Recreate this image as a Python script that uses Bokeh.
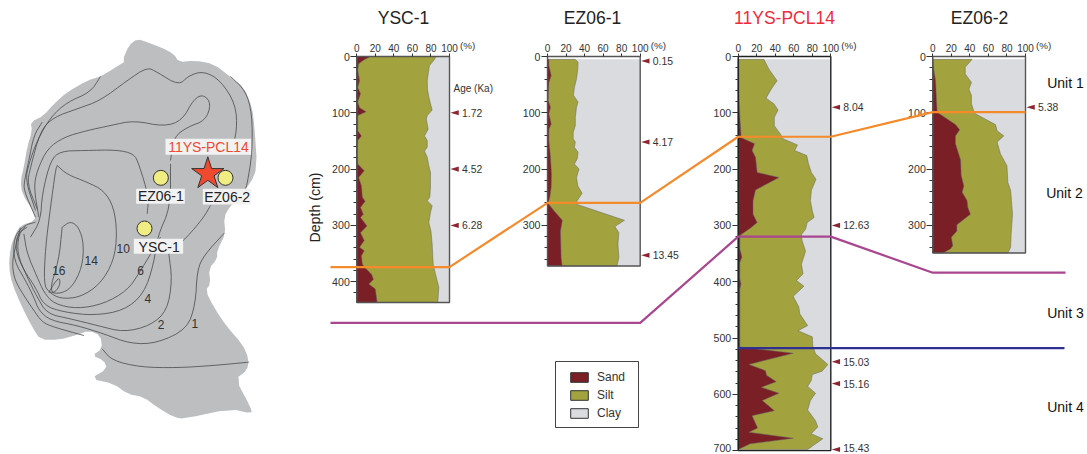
import math
from bokeh.plotting import figure
from bokeh.models import Range1d, LinearAxis, FixedTicker, Legend, LegendItem
from bokeh.core.properties import value
from bokeh.embed import file_html
from bokeh.resources import INLINE

# ---------- data ----------
core_names = ["YSC-1", "EZ06-1", "11YS-PCL14", "EZ06-2"]

ysc_silt_depth = [0,7,16,28,43,58,72,84,95,105,111,129,141,149,161,168,179,194,206,232,250,256,265,277,295,310,333,369,387,410,437]
ysc_silt_pct = [85.6,83,78.4,77.3,76,76.3,77.7,79.5,81.3,76,75,77,73,76,76,73,76,77.7,79.5,79.5,78.8,76,81.3,79.5,77.7,80,81.3,82.4,85,88.5,87.4]
ysc_sand_depth = [0,6,13,25,43,55,66,81,91,98,105,132,141,149,173,191,203,215,230,250,257,268,280,286,301,313,327,339,345,354,369,375,387,396,404,413,437]
ysc_sand_pct = [14.7,7.5,2,1,3,1,4,1,3,10,1,1,5,1,0.5,1,8,2,5,6,9,4,7,4,11,4,8,3,8,5,6,9,16,18,13,20,22]

ez1_silt_depth = [5,10,22,40,55,69,81,90,108,123,135,146,152,161,170,182,191,200,215,230,243,256,262,291,302,313,333,357,372]
ez1_silt_pct = [30,33,32.7,31.3,29,28,33,31.3,30,30,27.7,27.7,30,29,33,32,29,34,31.3,32.7,37.4,32,30.6,83,72.7,77,76,77,75]
ez1_sand_depth = [5,16,34,46,78,90,102,120,129,149,179,209,232,250,261,274,291,310,357,372]
ez1_sand_pct = [1.5,1.5,4,1.5,0.7,3.2,1.5,4,1.5,1.5,3.2,4.3,4,2.5,0.7,7,16,14,14.7,15.8]

pcl_silt_depth = [5,22,43,58,74,84,95,108,123,138,144,146.5,157,167,176,191,206,218,238,256,274,286,295,307,316,327,346,369,386,398,408,426,445,457,478,487,498,514,528,547,559,565,576,586,598,611,628,647,658,670,679,698]
pcl_silt_pct = [27.7,33,42,35.6,30,38.5,43,39,39,45.7,47.5,49,64,61,74,76,79,84,79,78,80,82,74.5,72.7,68.3,69,72.7,68.3,70,63,71,59.4,65.5,66.5,75,64.7,80,80.6,83.5,96.8,90.6,80,78.8,75,83.5,78,75,83.5,86,78.8,91.4,75]
pcl_sand_depth = [5,78,108,138,144,155,167,179,206,215,237,256,280,295,305,317,321,342,356,366,395,404,413,516,527,547,558,566,577.5,587.6,598,611,629,638,660,667.5,678,688,698]
pcl_sand_pct = [0.7,1,1.8,3,3,17.6,15,18.7,20.5,44,18.7,16,16,20.5,13,2.5,1.8,1.8,4,1.8,1.8,3,1.8,1.8,59.4,11.5,29.5,30.6,41,25,44,26,39,15,21,11.5,59.4,13,0]

ez2_silt_depth = [5,19,31,46,58,69,84,101,121,132,141,152,173,194,224,238,280,316,339,349]
ez2_silt_pct = [42.4,35,35,41.7,39,41.7,41.7,45,67.6,69.4,76.6,69.4,73,80,81,84,86,84.5,84,81]
ez2_sand_depth = [5,22,43,78,99,105,121,130,141,155,184,211,230,241,256,268,280,299,310,321,336,342,349]
ez2_sand_pct = [0,1,3,4,4.7,10,24.5,29,24.5,24.5,30,30.6,33.5,31.7,37,37.8,40.6,26,26,20,21.6,19,11]

age_depths = [[100, 200, 300], [8, 152, 353], [90, 300, 542, 581, 698], [90]]
age_label_depths = [[100, 200, 300], [8, 152, 353], [90, 300, 542, 581, 695], [90]]
age_labels = [["1.72", "4.52", "6.28"], ["0.15", "4.17", "13.45"], ["8.04", "12.63", "15.03", "15.16", "15.43"], ["5.38"]]

orange_depth = [374, 374, 260, 260, 142.5, 142.5, 98.8, 98.8]
purple_depth = [473, 473, 320, 320, 384, 384]
blue_depth = [518, 518]

map_outline_x = [370,385,410,440,480,520,535,580,640,690,730,755,762,770,750,690,670,675,650,650,625,630,615,640,680,725,745,740,705,750,755,690,550,520,470,430,380,340,270,320,310,275,305,300,265,225,175,120,95,60,35,25,30,45,60,105,100,65,60,70,80,95,90,130,160,200,260,300,330,370]
map_outline_y = [110,75,55,65,80,100,125,120,130,170,200,260,320,440,490,555,590,640,690,715,745,790,810,860,920,970,1015,1050,1075,1160,1180,1165,1195,1190,1160,1130,1120,1090,1075,1045,1020,1005,985,945,930,945,958,958,920,850,790,740,680,640,615,600,575,520,480,440,380,330,305,285,250,215,180,168,150,125]
map_contours = [
    [[305,335,420,530,640,745],[985,1020,1040,1042,1035,1025]],
    [[690,735,755,755,740,735],[168,210,280,400,490,505]],
    [[672,610,590,585,560,470,390,310,230,150,115,100,75,40,40,70,105],[637,705,750,850,925,968,970,940,915,900,870,830,780,720,650,615,605]],
    [[505,515,500,450,370,290,210,140,110,80,50,55,75],[700,780,870,915,935,915,895,880,830,770,700,640,618]],
    [[505,560,610,630],[700,650,590,555]],
    [[690,710,705,660,610,565,535,470,440,380,300,230,160,120,90,80,110],[400,330,250,180,152,165,195,155,140,180,240,265,290,330,440,490,565]],
    [[300,270,200,150,110,85,75,105],[168,215,245,290,360,430,480,570]],
    [[125,100,85,72,70,105],[305,345,420,480,510,590]],
    [[60,50,35,40,60,100,125,160,250],[622,660,720,770,810,870,905,920,945]],
    [[510,510,470,460,430,370,280,190,130,105,70,45,50,80],[430,560,650,730,820,870,885,875,855,800,750,690,640,620]],
    [[510,520,560,615,632,610,580,545,490,400,330,260,190,140,110,100,115],[420,350,320,300,250,222,235,300,318,300,315,330,350,385,450,500,590]],
    [[440,445,415,400,350,250,180,150,125,120,90],[580,530,430,400,388,390,392,420,520,600,650]],
    [[480,415,380,310,230,160,130,110,80,70],[650,760,810,850,865,850,815,770,700,640]],
    [[170,200,260,310,340,350,340,300,240,180,145,130,135,150,165,170],[435,462,485,510,560,640,720,790,830,835,815,790,680,560,450,435]],
    [[185,210,235,250,245,215,180,145,175,185],[620,602,620,670,740,800,820,815,720,620]],
    [[145,175,180,165,145],[815,768,790,815,815]],
]
contour_labels = ["16", "14", "10", "6", "4", "2", "1"]
contour_label_x = [175, 272, 368, 420, 442, 482, 583]
contour_label_y = [750, 720, 683, 750, 833, 912, 910]
site_names = ["EZ06-1", "EZ06-2", "YSC-1"]
site_x = [481, 675, 432]
site_y = [472, 472, 624]
site_label_x = [481, 680, 476]
site_label_y = [527, 528, 678]
star_x, star_y = 622, 460

# ---------- layout ----------
W, H = 1087, 454
FONT = value("Liberation Sans")
TICK = "#333333"
SAND, SILT, CLAY = "#7a1f25", "#a2a23e", "#d9dbde"
Y_ZERO, Y_SCALE = 56.0, 0.563

p = figure(width=W, height=H, output_backend="svg", toolbar_location=None,
           x_axis_type=None, y_axis_type=None, min_border=0,
           x_range=Range1d(0, W), y_range=Range1d(H, 0))
p.grid.visible = False
p.outline_line_color = None
p.background_fill_color = "white"
p.extra_y_ranges["depth"] = Range1d((H - Y_ZERO) / Y_SCALE, (0 - Y_ZERO) / Y_SCALE)
# map is drawn in a scale of one third of a pixel
p.extra_x_ranges["map"] = Range1d(0, W * 3)
p.extra_y_ranges["map"] = Range1d((H - 20) * 3, (0 - 20) * 3)

def txt(x, y, s, size, color="#222222", align="left", angle=0.0, **kw):
    return p.text([x], [y], text=[s], text_font=FONT, text_font_size=size, text_color=color,
                  text_align=align, text_baseline="middle", angle=angle, **kw)

def rounded(xs, ys, passes=2):
    """Corner-cutting so the hand-read map lines look drawn, not faceted."""
    for _ in range(passes):
        nx, ny = [xs[0]], [ys[0]]
        for a, b, c, d in zip(xs[:-1], xs[1:], ys[:-1], ys[1:]):
            nx += [0.75 * a + 0.25 * b, 0.25 * a + 0.75 * b]
            ny += [0.75 * c + 0.25 * d, 0.25 * c + 0.75 * d]
        nx.append(xs[-1]); ny.append(ys[-1])
        xs, ys = nx, ny
    return xs, ys

# ---------- map ----------
MK = dict(x_range_name="map", y_range_name="map")
ox, oy = rounded(map_outline_x, map_outline_y, 1)
p.patch(ox, oy, fill_color="#bcbec0", line_color=None, **MK)
for cx, cy in map_contours:
    sx, sy = rounded(cx, cy)
    p.line(sx, sy, line_color="#4a4a4a", line_width=0.8, **MK)
for s, x, y in zip(contour_labels, contour_label_x, contour_label_y):
    p.text([x], [y], text=[s], text_font=FONT, text_font_size="12px", text_color="#333333",
           text_align="center", text_baseline="middle", **MK)
p.scatter(site_x, site_y, size=15, marker="circle", fill_color="#f0ee82", line_color="#333333", line_width=1, **MK)
p.scatter([star_x], [star_y], size=34, marker="star", fill_color="#f04a2e", line_color="#333333", line_width=1, **MK)
p.quad(left=[407, 607, 400, 495], right=[553, 752, 548, 752], top=[505, 505, 655, 355], bottom=[550, 552, 700, 403],
       fill_color="#f2f2f3", line_color=None, **MK)
for s, x, y in zip(site_names, site_label_x, site_label_y):
    p.text([x], [y], text=[s], text_font=FONT, text_font_size="14px", text_color="#222222",
           text_align="center", text_baseline="middle", **MK)
p.text([624], [380], text=["11YS-PCL14"], text_font=FONT, text_font_size="14px", text_color="#f04a2e",
       text_align="center", text_baseline="middle", **MK)

# ---------- core panels ----------
cores = [
    dict(name="ysc", x0=356.3, x1=449.0, bottom=437, sand=(ysc_sand_depth, ysc_sand_pct), silt=(ysc_silt_depth, ysc_silt_pct),
         majors=[0, 100, 200, 300, 400], title_x=403, frame="#555555"),
    dict(name="ez1", x0=547.0, x1=639.7, bottom=372, sand=(ez1_sand_depth, ez1_sand_pct), silt=(ez1_silt_depth, ez1_silt_pct),
         majors=[0, 100, 200, 300], title_x=592, frame="#555555"),
    dict(name="pcl", x0=737.7, x1=830.3, bottom=700, sand=(pcl_sand_depth, pcl_sand_pct), silt=(pcl_silt_depth, pcl_silt_pct),
         majors=[0, 100, 200, 300, 400, 500, 600, 700], title_x=784, frame="#222222"),
    dict(name="ez2", x0=932.3, x1=1025.0, bottom=349, sand=(ez2_sand_depth, ez2_sand_pct), silt=(ez2_silt_depth, ez2_silt_pct),
         majors=[0, 100, 200, 300], title_x=979, frame="#555555"),
]
pct_ticks = [0, 20, 40, 60, 80, 100]

for i, c in enumerate(cores):
    n = c["name"]
    s = (c["x1"] - c["x0"]) / 100.0
    p.extra_x_ranges[n] = Range1d((0 - c["x0"]) / s, (W - c["x0"]) / s)
    K = dict(x_range_name=n, y_range_name="depth")
    top = c["silt"][0][0]
    p.quad(left=[0], right=[100], top=[top], bottom=[c["bottom"]], fill_color=CLAY, line_color=None, **K)
    for key, col in (("silt", SILT), ("sand", SAND)):
        d, v = c[key]
        p.patch([0] + list(v) + [0], [d[0]] + list(d) + [d[-1]], fill_color=col, line_color="#666666", line_width=0.5, **K)
    p.quad(left=[0], right=[100], top=[0], bottom=[c["bottom"]], fill_color=None, line_color=c["frame"], line_width=1.4, **K)

    ax = LinearAxis(x_range_name=n, y_range_name="depth", fixed_location=0, bounds=(0, 100),
                    ticker=FixedTicker(ticks=pct_ticks))
    ax.major_tick_out, ax.major_tick_in, ax.minor_tick_out, ax.minor_tick_in = 3, 0, 0, 0
    ax.major_label_text_font = "Liberation Sans"
    ax.major_label_text_font_size = "10px"
    ax.major_label_text_color = TICK
    ax.major_label_standoff = 2
    ax.axis_line_color = c["frame"]
    ax.major_tick_line_color = TICK
    p.add_layout(ax, "above")

    minor = [m for m in range(0, c["bottom"] + 1, 20) if m not in c["majors"]]
    ay = LinearAxis(x_range_name=n, y_range_name="depth", fixed_location=0, bounds=(0, c["bottom"]),
                    ticker=FixedTicker(ticks=c["majors"], minor_ticks=minor))
    ay.major_tick_out, ay.major_tick_in, ay.minor_tick_out, ay.minor_tick_in = 6, 0, 3, 0
    ay.major_label_text_font = "Liberation Sans"
    ay.major_label_text_font_size = "10.6px"
    ay.major_label_text_color = TICK
    ay.major_label_standoff = 1
    ay.axis_line_color = c["frame"]
    ay.major_tick_line_color = TICK
    ay.minor_tick_line_color = TICK
    if c["bottom"] == 700:
        # last label would run off the bottom of the window: it is set a little higher below
        ay.major_label_overrides = {700: ""}
        txt(c["x0"] - 7, 447.6, "700", "10.6px", TICK, align="right")
    p.add_layout(ay, "left")

    txt(c["x1"] + 10.5, 44.8, "(%)", "9.8px", TICK)
    title_col = "#ee2b3b" if n == "pcl" else "#222222"
    p.text([c["title_x"]], [17], text=[core_names[i]], text_font=FONT, text_font_size="17.5px", text_color=title_col,
           text_align="center", text_baseline="middle")

    ages = age_depths[i]
    p.patches([[101, 110, 110] for _ in ages], [[a, a - 4.5, a + 4.5] for a in ages],
              fill_color="#8f2430", line_color=None, **K)
    p.text([113.5] * len(ages), age_label_depths[i], text=age_labels[i], text_font=FONT, text_font_size="10.4px",
           text_color="#333333", text_align="left", text_baseline="middle", **K)

txt(453, 88, "Age (Ka)", "10px", TICK)
txt(314, 207, "Depth (cm)", "14.2px", "#222222", align="center", angle=math.pi / 2)

# ---------- correlation lines ----------
xs = [330]
for c in cores:
    xs += [c["x0"], c["x1"]]
xs.append(1066)
p.line(xs[:1] + xs[2:], orange_depth, line_color="#f58a2a", line_width=2.2, y_range_name="depth", level="overlay")
p.line([330, cores[1]["x1"], cores[2]["x0"], cores[2]["x1"], cores[3]["x0"], 1065], purple_depth,
       line_color="#a8468f", line_width=2.2, y_range_name="depth", level="overlay")
p.line([cores[2]["x0"], 1064], blue_depth, line_color="#2e3192", line_width=2.2, y_range_name="depth", level="overlay")

for lab, x, y in (("Unit 1", 1065, 82), ("Unit 2", 1064, 192), ("Unit 3", 1065, 312), ("Unit 4", 1065, 406)):
    txt(x, y, lab, "14px", "#111111", align="center")

# ---------- legend ----------
p.quad(left=[555], right=[638], top=[361], bottom=[427], fill_color="white", line_color="#444444", line_width=1)
nan = float("nan")
leg_r = [p.patch([nan], [nan], fill_color=col, line_color="#333333", line_width=1) for col in (SAND, SILT, CLAY)]
legend = Legend(items=[LegendItem(label=l, renderers=[r]) for l, r in zip(["Sand", "Silt", "Clay"], leg_r)],
                location=(568, H - 420), orientation="vertical",
                glyph_width=22, glyph_height=12, spacing=4, padding=0, margin=0, label_standoff=7,
                label_text_font="Liberation Sans", label_text_font_size="12px", label_text_color="#333333",
                border_line_color=None, background_fill_alpha=0)
p.add_layout(legend, "center")

open("out.html", "w").write(file_html(p, INLINE))
